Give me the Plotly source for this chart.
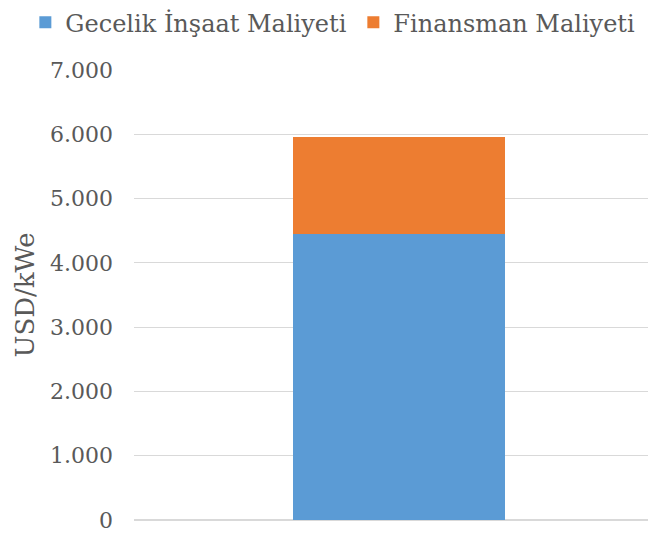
import plotly.graph_objects as go

categories = [""]
series_names = ["Gecelik İnşaat Maliyeti", "Finansman Maliyeti"]
gecelik = [4455]
finansman = [1510]
y_ticks = [0, 1000, 2000, 3000, 4000, 5000, 6000, 7000]

colors = ["#5B9BD5", "#ED7D31"]
legend_widths = [283, None]
FAM = "DejaVu Serif"
tick_font = dict(family=FAM, size=22, color="#595959")
legend_font = dict(family=FAM, size=24, color="#595959")
title_font = dict(family=FAM, size=26, color="#595959")

fig = go.Figure()
for name, vals, c, lw in zip(series_names, [gecelik, finansman], colors, legend_widths):
    fig.add_trace(go.Bar(x=categories, y=vals, name=name, legendwidth=lw,
                         marker=dict(color=c, line=dict(width=0)), width=0.4))

fig.update_layout(
    barmode="stack",
    width=656, height=535,
    margin=dict(l=126, r=0, t=62, b=23, autoexpand=False),
    paper_bgcolor="white", plot_bgcolor="white",
    font=tick_font,
    separators=",.",
    showlegend=True,
    legend=dict(orientation="h", x=-0.205, xanchor="left",
                y=1.105, yanchor="middle", font=legend_font, tracegroupgap=0,
                traceorder="normal"),
    xaxis=dict(showticklabels=False, showgrid=False, zeroline=False, range=[-0.5, 0.5]),
    yaxis=dict(range=[0, 7000], tickvals=y_ticks, tickformat=",d", gridcolor="#D9D9D9",
               gridwidth=1, zeroline=True, zerolinecolor="#D9D9D9", zerolinewidth=2,
               ticklabelstandoff=20, showline=False, automargin=False,
               tickfont=tick_font,
               title=dict(text="USD/kWe", font=title_font, standoff=7)),
)
fig.write_html("out.html")
